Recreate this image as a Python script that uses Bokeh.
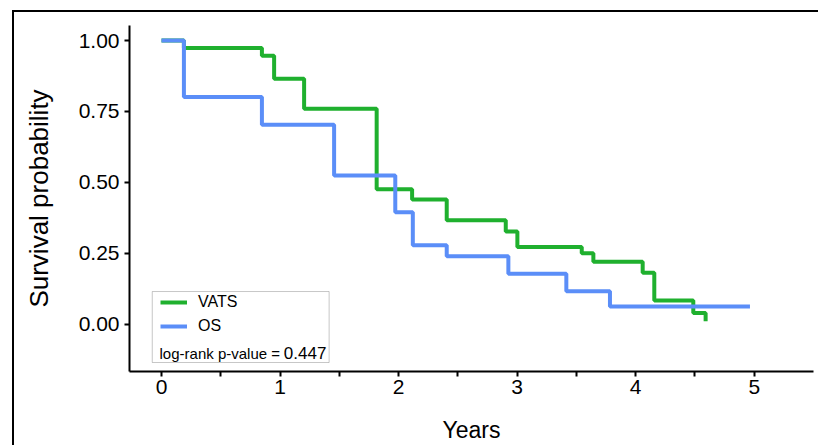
from bokeh.plotting import figure
from bokeh.models import (FixedTicker, Legend, LegendItem, BoxAnnotation, Label,
                          Range1d, ColumnDataSource, GlobalInlineStyleSheet)
from bokeh.embed import file_html
from bokeh.resources import INLINE

# ---------------- data ----------------
vats_time = [0.0, 0.189, 0.847, 0.950, 1.203, 1.815, 2.114, 2.406, 2.904, 3.002,
             3.545, 3.643, 4.059, 4.157, 4.486, 4.590]
vats_surv = [1.0, 0.974, 0.946, 0.865, 0.759, 0.475, 0.439, 0.366, 0.326, 0.272,
             0.250, 0.220, 0.181, 0.083, 0.039, 0.010]

os_time = [0.0, 0.189, 0.847, 1.456, 1.972, 2.120, 2.406, 2.926, 3.415, 3.783, 4.964]
os_surv = [1.0, 0.801, 0.703, 0.524, 0.394, 0.278, 0.239, 0.177, 0.116, 0.062, 0.062]

series_names = ["VATS", "OS"]
p_value = 0.447

x_ticks = [0, 1, 2, 3, 4, 5]
x_minor_ticks = [0.5, 1.5, 2.5, 3.5, 4.5]
y_ticks = [0.0, 0.25, 0.5, 0.75, 1.0]
y_tick_labels = ["0.00", "0.25", "0.50", "0.75", "1.00"]

GREEN = "#1fb02e"
BLUE = "#5b8ef8"
FONT = "Liberation Sans"

p = figure(width=806, height=440, output_backend="svg", toolbar_location=None,
           x_range=Range1d(-0.27, 5.5), y_range=Range1d(-0.1675, 1.053),
           min_border_left=115, min_border_right=7, min_border_top=13,
           min_border_bottom=81)
p.styles = {"margin-left": "12px", "margin-top": "10px",
            "border-left": "2px solid black", "border-top": "2px solid black"}
p.stylesheets = [GlobalInlineStyleSheet(css="html, body { overflow: hidden; }")]

p.outline_line_color = None
p.xgrid.visible = False
p.ygrid.visible = False
p.background_fill_color = "white"
p.border_fill_color = "white"

src_v = ColumnDataSource(dict(t=vats_time, s=vats_surv))
src_o = ColumnDataSource(dict(t=os_time, s=os_surv))
r_v = p.step(x="t", y="s", source=src_v, mode="after", line_color=GREEN, line_width=4)
r_o = p.step(x="t", y="s", source=src_o, mode="after", line_color=BLUE, line_width=4)

# axes
p.xaxis.ticker = FixedTicker(ticks=x_ticks, minor_ticks=x_minor_ticks)
p.yaxis.ticker = FixedTicker(ticks=y_ticks)
p.yaxis.major_label_overrides = {v: l for v, l in zip(y_ticks, y_tick_labels)}
for ax in (p.xaxis, p.yaxis):
    ax.axis_line_color = "black"
    ax.axis_line_width = 2
    ax.major_tick_line_color = "black"
    ax.major_tick_line_width = 2
    ax.major_tick_out = 5
    ax.major_tick_in = 0
    ax.major_label_text_font = FONT
    ax.major_label_text_color = "black"
    ax.axis_label_text_font = FONT
    ax.axis_label_text_font_style = "normal"
    ax.axis_label_text_color = "black"
p.xaxis.minor_tick_line_color = "black"
p.xaxis.minor_tick_line_width = 2
p.xaxis.minor_tick_out = 5
p.xaxis.minor_tick_in = 0
p.yaxis.minor_tick_line_color = None

p.xaxis.axis_label = "Years"
p.yaxis.axis_label = "Survival probability"
p.xaxis.major_label_text_font_size = "21px"
p.yaxis.major_label_text_font_size = "21px"
p.xaxis.axis_label_text_font_size = "23px"
p.yaxis.axis_label_text_font_size = "26px"
p.xaxis.major_label_standoff = 3
p.yaxis.major_label_standoff = 5
p.xaxis.axis_label_standoff = 20
p.yaxis.axis_label_standoff = 22

# legend box
box = BoxAnnotation(left=-0.078, right=1.414, bottom=-0.1358, top=0.1146,
                    fill_color="white", fill_alpha=1.0,
                    line_color="#444444", line_width=1)
p.add_layout(box)

legend = Legend(items=[LegendItem(label=series_names[0], renderers=[r_v]),
                       LegendItem(label=series_names[1], renderers=[r_o])],
                location=(31, 35), orientation="vertical",
                border_line_color=None, background_fill_alpha=0,
                label_text_font=FONT, label_text_font_size="16px",
                label_text_color="black",
                glyph_width=27, glyph_height=20, label_height=20,
                spacing=4, padding=0, margin=0, label_standoff=11)
p.add_layout(legend)

p.add_layout(Label(x=-0.0166, y=-0.104, text="log-rank p-value = ",
                   text_font=FONT, text_font_size="15px", text_color="black",
                   text_baseline="alphabetic"))
p.add_layout(Label(x=1.032, y=-0.104, text=f"{p_value:.3f}",
                   text_font=FONT, text_font_size="17px", text_color="black",
                   text_baseline="alphabetic"))

open("out.html", "w").write(file_html(p, INLINE))
